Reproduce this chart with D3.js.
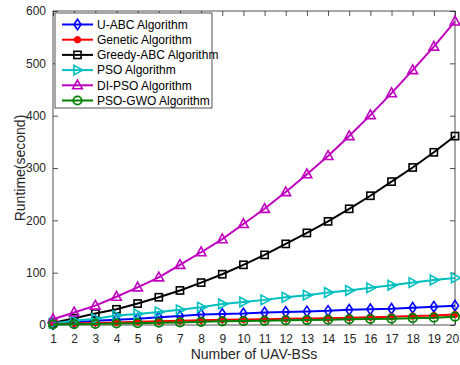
<!DOCTYPE html>
<html><head><meta charset="utf-8">
<script src="https://cdn.jsdelivr.net/npm/d3@7"></script>
<style>body{margin:0;background:#fff}svg{display:block}text{font-family:"Liberation Sans",Arial,sans-serif}</style>
</head><body><svg id="c" width="460" height="365"></svg>
<script>
const xValues = [1,2,3,4,5,6,7,8,9,10,11,12,13,14,15,16,17,18,19,20];
const yTicks = [0,100,200,300,400,500,600];
const seriesNames = ["U-ABC Algorithm","Genetic Algorithm","Greedy-ABC Algorithm","PSO Algorithm","DI-PSO Algorithm","PSO-GWO Algorithm"];
const uabc   = [2,5,8,10,12,15,17,20,21,22,24,25,26,27,29,30,31,33,35,37];
const genetic= [1.5,3,4,5,6,7,8,9,10,10.5,11,12,12.5,13,14,15,16,17,18,20];
const greedy = [4,13,22,30,41,53,66,81,97,115,134,155,176,198,222,247,274,301,330,361];
const pso    = [3,8,12,18,21,25,29,34,40,44,48,53,57,62,66,71,76,81,86,90];
const dipso  = [11,24,37,54,72,91,115,139,164,193,222,254,288,323,361,401,443,487,532,580];
const psogwo = [1,1.5,2,3,3.5,4.5,5,6,7,7.5,8,9,9.5,10,11,11.5,12,13,14,16];
const colors = ["#0000ff","#ff0000","#000000","#00bfbf","#bf00bf","#008000"];
const markers = ["diamond","dot","square","tright","tup","circle"];
const allSeries = [uabc, genetic, greedy, pso, dipso, psogwo];

const svg = d3.select("#c");
const L=53, R=455, T=11, B=325;
const x = d3.scaleLinear().domain([1,20]).range([L,R]);
const y = d3.scaleLinear().domain([0,600]).range([B,T]);
const axisColor="#262626";

svg.append("rect").attr("x",L).attr("y",T).attr("width",R-L).attr("height",B-T)
  .attr("fill","none").attr("stroke",axisColor).attr("stroke-width",0.8);

const gx = svg.append("g").attr("transform",`translate(0,${B})`)
  .call(d3.axisBottom(x).tickValues(xValues).tickSize(-5).tickPadding(9).tickFormat(d3.format("d")));
const gxt = svg.append("g").attr("transform",`translate(0,${T})`)
  .call(d3.axisTop(x).tickValues(xValues).tickSize(-5).tickFormat(""));
const gy = svg.append("g").attr("transform",`translate(${L},0)`)
  .call(d3.axisLeft(y).tickValues(yTicks).tickSize(-5).tickPadding(7));
const gyr = svg.append("g").attr("transform",`translate(${R},0)`)
  .call(d3.axisRight(y).tickValues(yTicks).tickSize(-5).tickFormat(""));
[gx,gxt,gy,gyr].forEach(g=>{
  g.select(".domain").remove();
  g.selectAll(".tick line").attr("stroke",axisColor).attr("stroke-width",0.8);
  g.selectAll("text").attr("fill",axisColor).style("font-size","12px");
});
// keep the last x tick label inside the window
gx.selectAll(".tick text").filter(d=>d===20).attr("dx","-3");

svg.append("text").attr("x",(L+R)/2).attr("y",359).attr("text-anchor","middle")
  .attr("fill",axisColor).style("font-size","14px").text("Number of UAV-BSs");
svg.append("text").attr("transform",`translate(25,${(T+B)/2}) rotate(-90)`).attr("text-anchor","middle")
  .attr("fill",axisColor).style("font-size","14px").text("Runtime(second)");

function drawMarker(g, type, cx, cy, color){
  const s=4.4;
  if(type==="diamond") g.append("path").attr("d",`M${cx},${cy-s*1.2}L${cx+s*0.8},${cy}L${cx},${cy+s*1.2}L${cx-s*0.8},${cy}Z`).attr("fill","none").attr("stroke",color).attr("stroke-width",1.6);
  else if(type==="dot") g.append("circle").attr("cx",cx).attr("cy",cy).attr("r",3.2).attr("fill",color).attr("stroke",color);
  else if(type==="square") g.append("rect").attr("x",cx-3.6).attr("y",cy-3.6).attr("width",7.2).attr("height",7.2).attr("fill","none").attr("stroke",color).attr("stroke-width",1.6);
  else if(type==="tright") g.append("path").attr("d",`M${cx+s*1.2},${cy}L${cx-s*0.8},${cy-s*1.1}L${cx-s*0.8},${cy+s*1.1}Z`).attr("fill","none").attr("stroke",color).attr("stroke-width",1.6);
  else if(type==="tup") g.append("path").attr("d",`M${cx},${cy-s*1.2}L${cx+s*1.1},${cy+s*0.8}L${cx-s*1.1},${cy+s*0.8}Z`).attr("fill","none").attr("stroke",color).attr("stroke-width",1.6);
  else if(type==="circle") g.append("circle").attr("cx",cx).attr("cy",cy).attr("r",4.2).attr("fill","none").attr("stroke",color).attr("stroke-width",1.8);
}

const line = d3.line().x((d,i)=>x(xValues[i])).y(d=>y(d));
allSeries.forEach((s,k)=>{
  const g = svg.append("g");
  g.append("path").datum(s).attr("d",line).attr("fill","none").attr("stroke",colors[k]).attr("stroke-width",2);
  s.forEach((v,i)=>drawMarker(g,markers[k],x(xValues[i]),y(v),colors[k]));
});

const lg = svg.append("g");
lg.append("rect").attr("x",55).attr("y",13).attr("width",157).attr("height",95)
  .attr("fill","#fff").attr("stroke",axisColor).attr("stroke-width",0.8);
seriesNames.forEach((n,k)=>{
  const yy = 24.5 + k*15.2;
  lg.append("line").attr("x1",62).attr("x2",93).attr("y1",yy).attr("y2",yy).attr("stroke",colors[k]).attr("stroke-width",2);
  drawMarker(lg,markers[k],77.5,yy,colors[k]);
  lg.append("text").attr("x",97).attr("y",yy+4.2).attr("fill","#000").style("font-size","12px").text(n);
});
</script></body></html>
